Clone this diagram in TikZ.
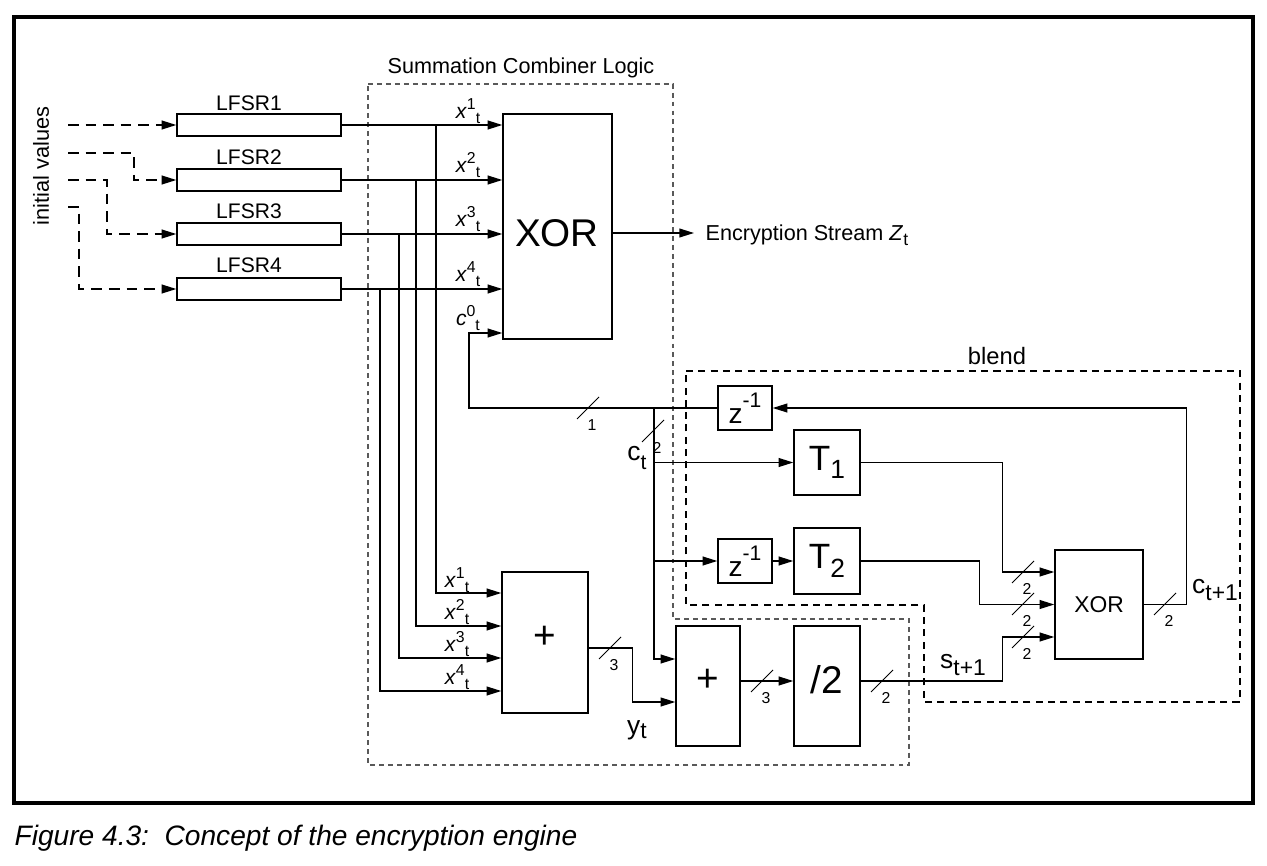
\documentclass[tikz,border=0pt]{standalone}
\usepackage{fontspec}
\setmainfont{Liberation Sans}
\usetikzlibrary{arrows.meta}
\newcommand{\fs}[1]{\fontsize{#1}{#1}\selectfont}
\newcommand{\xsub}[2]{\textit{#1}\raisebox{0.85ex}{\fs{9}#2}\raisebox{-0.45ex}{\fs{9}t}}
\newcommand{\zinv}{z\raisebox{1.1ex}{\fs{12}-1}}
\begin{document}
\begin{tikzpicture}[x=0.02cm,y=-0.02cm,line width=0.8pt,
  box/.style={draw,inner sep=0pt},
  lfsr/.style={box,minimum width=3.28cm,minimum height=0.44cm},
  delay/.style={box,minimum width=1.08cm,minimum height=0.88cm,font=\fs{16}},
  tbox/.style={box,minimum width=1.32cm,minimum height=1.3cm,font=\fs{20}},
  arr/.style={-{Triangle[length=8.3pt,width=5pt]}},
  ivline/.style={dash pattern=on 6pt off 4pt},
  sumline/.style={line width=0.6pt,black!65,dash pattern=on 2.8pt off 2.3pt},
  blendline/.style={line width=0.6pt,dash pattern=on 4pt off 3pt},
  txt/.style={inner sep=0pt},
  buslab/.style={inner sep=0pt,font=\fs{9}}]
\useasboundingbox (0,0) rectangle (1267,865);
\draw[line width=1.8pt] (14,17) rectangle (1253,803);

\node[txt,font=\fs{12.4},rotate=90] (init) at (41,166) {initial values};
\node[lfsr] (lfsr1) at (259,125) {};
\node[lfsr] (lfsr2) at (259,180) {};
\node[lfsr] (lfsr3) at (259,234) {};
\node[lfsr] (lfsr4) at (259,289) {};
\node[txt,font=\fs{12}] (name1) at (249,103) {LFSR1};
\node[txt,font=\fs{12}] (name2) at (249,157) {LFSR2};
\node[txt,font=\fs{12}] (name3) at (249,211) {LFSR3};
\node[txt,font=\fs{12}] (name4) at (249,265) {LFSR4};

\coordinate (iv1) at (68,125);
\coordinate (iv2) at (68,153);
\coordinate (iv3) at (68,180);
\coordinate (iv4) at (68,207);
\draw[ivline,arr] (iv1) -- (lfsr1.west);
\draw[ivline,arr] (iv2) -- ++(66,0) |- (lfsr2.west);
\draw[ivline,arr] (iv3) -- ++(39,0) |- (lfsr3.west);
\draw[ivline,arr] (iv4) -- ++(11,0) |- (lfsr4.west);

\draw[sumline] (368,84) -- (673,84) -- (673,619) -- (909,619) -- (909,765) -- (368,765) -- cycle;
\node[txt,font=\fs{12.3}] (sumname) at (521,68) {Summation Combiner Logic};

\node[box,minimum width=2.18cm,minimum height=4.5cm] (xor) at (557.5,226.5) {};
\node[txt,font=\fs{22}] (xorname) at (557,233) {XOR};
\foreach \i in {1,...,4}
  \draw[arr] (lfsr\i.east) -- (lfsr\i.east -| xor.west);
\node[txt,font=\fs{12}] (xa1) at (468,111) {\xsub{x}{1}};
\node[txt,font=\fs{12}] (xa2) at (468,165) {\xsub{x}{2}};
\node[txt,font=\fs{12}] (xa3) at (468,219) {\xsub{x}{3}};
\node[txt,font=\fs{12}] (xa4) at (468,274) {\xsub{x}{4}};
\node[txt,font=\fs{12}] (ca0) at (468,318) {\xsub{c}{0}};

\coordinate (zt) at (694,233);
\draw[arr] (xor.east |- zt) -- (zt);
\node[txt,anchor=base west,font=\fs{12.3}] (stream) at (705,240) {Encryption Stream \textit{Z}\raisebox{-0.5ex}{\fs{10}t}};

\node[box,minimum width=1.72cm,minimum height=2.82cm] (add1) at (545,642.5) {};
\node[txt,font=\fs{22}] (add1name) at (545,637) {+};
\coordinate (tap1) at (436,125);
\coordinate (tap2) at (416,180);
\coordinate (tap3) at (399,234);
\coordinate (tap4) at (380,289);
\coordinate (s1) at (0,593);
\coordinate (s2) at (0,626);
\coordinate (s3) at (0,658);
\coordinate (s4) at (0,691);
\foreach \i in {1,...,4}
  \draw[arr] (tap\i) |- (add1.west |- s\i);
\node[txt,font=\fs{12}] (xb1) at (457,580) {\xsub{x}{1}};
\node[txt,font=\fs{12}] (xb2) at (457,612) {\xsub{x}{2}};
\node[txt,font=\fs{12}] (xb3) at (457,644) {\xsub{x}{3}};
\node[txt,font=\fs{12}] (xb4) at (457,677) {\xsub{x}{4}};

\draw[blendline] (686,371) -- (1240,371) -- (1240,702) -- (924,702) -- (924,605) -- (686,605) -- cycle;
\node[txt,font=\fs{13.5}] (blendname) at (997,356) {blend};

\node[delay] (zinv1) at (745,408) {\zinv};
\node[tbox] (t1) at (827,462.5) {T\raisebox{-0.45ex}{\fs{15}1}};
\node[delay] (zinv2) at (745,561) {\zinv};
\node[tbox,minimum height=1.32cm] (t2) at (827,561) {T\raisebox{-0.45ex}{\fs{15}2}};
\node[box,minimum width=1.76cm,minimum height=2.18cm,font=\fs{13}] (xor2) at (1099,604.5) {XOR};
\node[box,minimum width=1.28cm,minimum height=2.4cm] (add2) at (708,686) {};
\node[txt,font=\fs{22}] (add2name) at (708,680) {+};
\node[box,minimum width=1.32cm,minimum height=2.4cm] (half) at (827,686) {};
\node[txt,font=\fs{22}] (halfname) at (827,680) {/2};

\coordinate (ret) at (469,333);
\draw[arr] (zinv1.west) -| (ret) -- (ret -| xor.west);
\coordinate (ct) at (654,408);
\coordinate (u) at (0,659);
\draw[arr] (ct) |- (add2.west |- u);
\draw[arr] (ct |- t1.west) -- (t1.west);
\draw[arr] (ct |- zinv2.west) -- (zinv2.west);
\draw[arr] (zinv2) -- (t2);
\coordinate (w) at (0,648);
\coordinate (v) at (0,702);
\draw[arr] (add1.east |- w) -- ++(44,0) |- (add2.west |- v);
\coordinate (m) at (0,681);
\draw[arr] (add2.east |- m) -- (half.west |- m);
\coordinate (p1) at (0,572);
\coordinate (p3) at (0,637);
\draw[arr] (half.east |- m) -- ++(142,0) |- (xor2.west |- p3);
\draw[arr] (t1.east) -- ++(142,0) |- (xor2.west |- p1);
\draw[arr] (t2.east) -- ++(119,0) |- (xor2.west);
\draw[arr] (xor2.east) -- ++(43,0) |- (zinv1.east);

\node[txt,font=\fs{15}] (ctname) at (637,458) {c\raisebox{-0.6ex}{\fs{12}t}};
\node[txt,font=\fs{15}] (ytname) at (637,730) {y\raisebox{-0.3ex}{\fs{13}t}};
\node[txt,font=\fs{15}] (cnext) at (1215,590) {c\raisebox{-0.5ex}{\fs{13}t+1}};
\node[txt,font=\fs{15}] (snext) at (963,665) {s\raisebox{-0.5ex}{\fs{13}t+1}};

\foreach \bx/\by/\bw [count=\k] in {588/408/1, 653/431/2, 610/648/3, 762/681/3, 882/681/2, 1023/572/2, 1023/604/2, 1023/637/2, 1165/604/2} {
  \draw[line width=0.5pt] (\bx-11,\by+11) -- (\bx+11,\by-11);
  \node[buslab] (bus\k) at (\bx+4,\by+17) {\bw};
}

\node[txt,anchor=west,font=\fs{16}\itshape] (caption) at (14,838) {Figure 4.3:\ \ Concept of the encryption engine};
\end{tikzpicture}
\end{document}
